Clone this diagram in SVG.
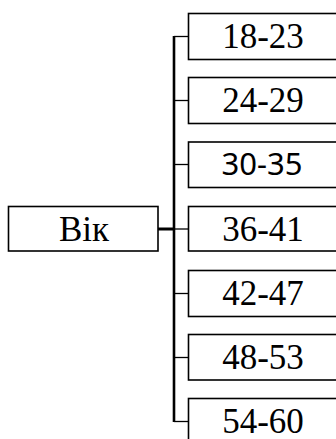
<svg xmlns="http://www.w3.org/2000/svg" width="336" height="439" viewBox="0 0 336 439">
<style>
.box{fill:#fff;stroke:#000;stroke-width:1.6}
.c{stroke:#000;fill:none}
</style>
<rect width="336" height="439" fill="#fff"/>
<g id="connectors">
<line class="c" x1="174" y1="36" x2="174" y2="422" stroke-width="2.6"/>
<line class="c" x1="158" y1="229" x2="174" y2="229" stroke-width="3"/>
<g stroke-width="1.3">
<line class="c" x1="174" y1="36.5" x2="188" y2="36.5"/>
<line class="c" x1="174" y1="100.5" x2="188" y2="100.5"/>
<line class="c" x1="174" y1="164.5" x2="188" y2="164.5"/>
<line class="c" x1="174" y1="229" x2="188" y2="229"/>
<line class="c" x1="174" y1="293.5" x2="188" y2="293.5"/>
<line class="c" x1="174" y1="357.5" x2="188" y2="357.5"/>
<line class="c" x1="174" y1="421.5" x2="188" y2="421.5"/>
</g>
</g>
<g font-family="Liberation Serif" font-size="35" text-anchor="middle" fill="#000">
<g id="vik"><rect class="box" x="8.5" y="206.5" width="149.5" height="44.5"/><text x="84" y="240.5">Вік</text></g>
<g id="n1"><rect class="box" x="188.5" y="13.5" width="160" height="46"/><text x="263" y="48">18-23</text></g>
<g id="n2"><rect class="box" x="188.5" y="77.5" width="160" height="46"/><text x="263" y="112">24-29</text></g>
<g id="n3"><rect class="box" x="188.5" y="142" width="160" height="45.5"/><text x="262" y="175" font-family="Noto Sans" font-size="31">30-35</text></g>
<g id="n4"><rect class="box" x="188.5" y="206.5" width="160" height="44.5"/><text x="263" y="241">36-41</text></g>
<g id="n5"><rect class="box" x="188.5" y="270.5" width="160" height="46"/><text x="263" y="305">42-47</text></g>
<g id="n6"><rect class="box" x="188.5" y="334.5" width="160" height="45.5"/><text x="263" y="369">48-53</text></g>
<g id="n7"><rect class="box" x="188.5" y="398.5" width="160" height="46"/><text x="263" y="433">54-60</text></g>
</g>
</svg>
